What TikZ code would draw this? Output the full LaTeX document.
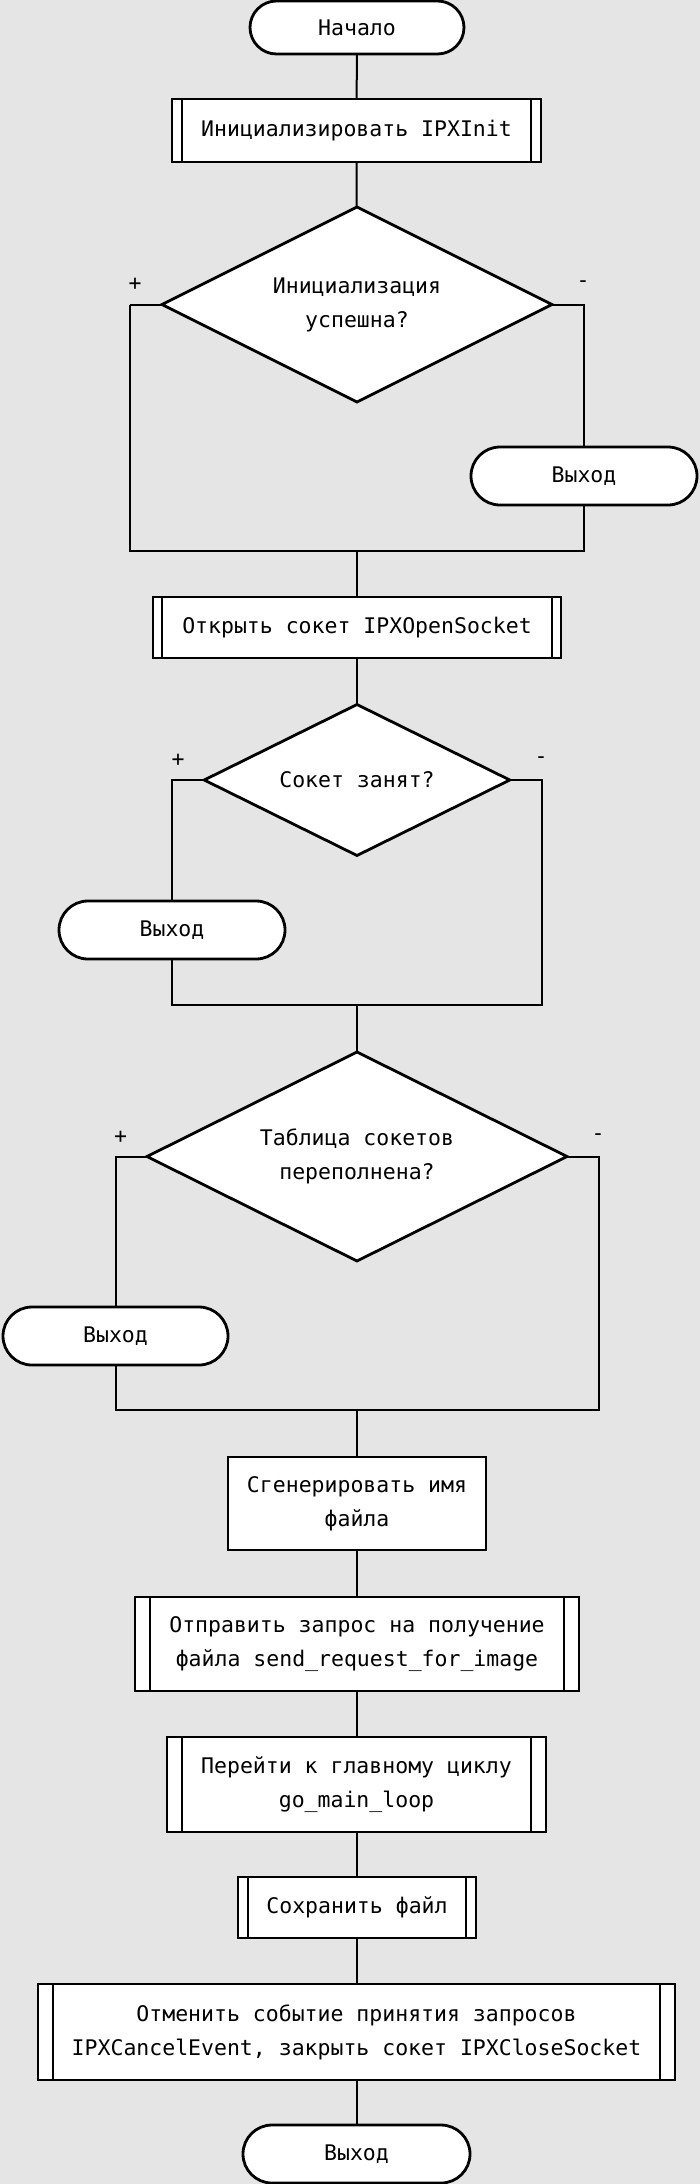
\documentclass[tikz,border=0pt]{standalone}
\usepackage{fontspec}
\setmonofont{DejaVu Sans Mono}
\usetikzlibrary{shapes.geometric,shapes.misc}
\definecolor{bgcol}{RGB}{229,229,229}
\tikzset{
  base/.style={draw=black, line width=2.8pt, fill=white, outer sep=0pt, inner sep=2pt,
    font=\ttfamily\fontsize{21.5}{34}\selectfont, align=center},
  term/.style={base, rounded rectangle},
  proc/.style={base, rectangle},
  sub/.style={base, rectangle},
  dec/.style={base, diamond, shape aspect=2, inner sep=0pt},
  conn/.style={draw=black, line width=2pt},
  lbl/.style={font=\ttfamily\fontsize{21.5}{34}\selectfont, inner sep=0pt}
}
\newcommand{\subrlines}[2]{%
  \draw[line width=2.8pt] ([xshift=#2]#1.north west) -- ([xshift=#2]#1.south west);
  \draw[line width=2.8pt] ([xshift=-#2]#1.north east) -- ([xshift=-#2]#1.south east);
}
\begin{document}
\begin{tikzpicture}[x=1pt,y=-1pt]
\path[use as bounding box, fill=bgcol] (0,0) rectangle (700,2184);

% coordinates for merges and branches
\coordinate (m1) at (357,551);
\coordinate (l1) at (129.5,304.5);
\coordinate (m2) at (357,1005);
\coordinate (r2) at (542,780);
\coordinate (m3) at (357,1410);
\coordinate (r3) at (599,1156.5);

% connectors
\draw[conn] (357,27.5) -- (356.5,130.5);
\draw[conn] (356.5,130.5) -- (357,304.5);
\draw[conn] (l1) -- (357,304.5);
\draw[conn] (l1) |- (m1);
\draw[conn] (357,304.5) -| (584,476);
\draw[conn] (584,476) |- (m1);
\draw[conn] (m1) -- (357,627.5) -- (357,780);
\draw[conn] (357,780) -| (172,930);
\draw[conn] (172,930) |- (m2);
\draw[conn] (357,780) -- (r2) |- (m2);
\draw[conn] (m2) -- (357,1156.5);
\draw[conn] (357,1156.5) -| (115.5,1336);
\draw[conn] (115.5,1336) |- (m3);
\draw[conn] (357,1156.5) -- (r3) |- (m3);
\draw[conn] (m3) -- (357,2154);

% nodes
\node[term, minimum width=218pt, minimum height=53pt] (start) at (357,27.5) {Начало};
\node[sub, minimum width=369pt, minimum height=63pt] (init) at (356.5,130.5) {Инициализировать IPXInit};
\subrlines{init}{10pt}
\node[dec, minimum width=390pt, minimum height=195pt] (d1) at (357,304.5) {Инициализация\\успешна?};
\node[term, minimum width=230pt, minimum height=58pt] (exit1) at (584,476) {Выход};
\node[sub, minimum width=408pt, minimum height=61pt] (open) at (357,627.5) {Открыть сокет IPXOpenSocket};
\subrlines{open}{9pt}
\node[dec, minimum width=305.5pt, minimum height=151pt] (d2) at (357,780) {Сокет занят?};
\node[term, minimum width=230pt, minimum height=58pt] (exit2) at (172,930) {Выход};
\node[dec, minimum width=420pt, minimum height=209pt] (d3) at (357,1156.5) {Таблица сокетов\\переполнена?};
\node[term, minimum width=229pt, minimum height=58pt] (exit3) at (115.5,1336) {Выход};
\node[proc, minimum width=258pt, minimum height=93pt] (gen) at (357,1503.5) {Сгенерировать имя\\файла};
\node[sub, minimum width=444pt, minimum height=94pt] (send) at (357,1644) {Отправить запрос на получение\\файла send\_request\_for\_image};
\subrlines{send}{15pt}
\node[sub, minimum width=379pt, minimum height=95pt] (loop) at (356.5,1784.5) {Перейти к главному циклу\\go\_main\_loop};
\subrlines{loop}{15pt}
\node[sub, minimum width=238pt, minimum height=61pt] (save) at (357,1907.5) {Сохранить файл};
\subrlines{save}{10pt}
\node[sub, minimum width=637pt, minimum height=96pt] (cancel) at (356.5,2032) {Отменить событие принятия запросов\\IPXCancelEvent, закрыть сокет IPXCloseSocket};
\subrlines{cancel}{15pt}
\node[term, minimum width=231pt, minimum height=58pt] (end) at (356.5,2154) {Выход};

% branch labels
\node[lbl] (p1) at (135,284) {+};
\node[lbl] (n1) at (583,284) {-};
\node[lbl] (p2) at (178,760) {+};
\node[lbl] (n2) at (541,760) {-};
\node[lbl] (p3) at (120.5,1137) {+};
\node[lbl] (n3) at (598,1137) {-};
\end{tikzpicture}
\end{document}
